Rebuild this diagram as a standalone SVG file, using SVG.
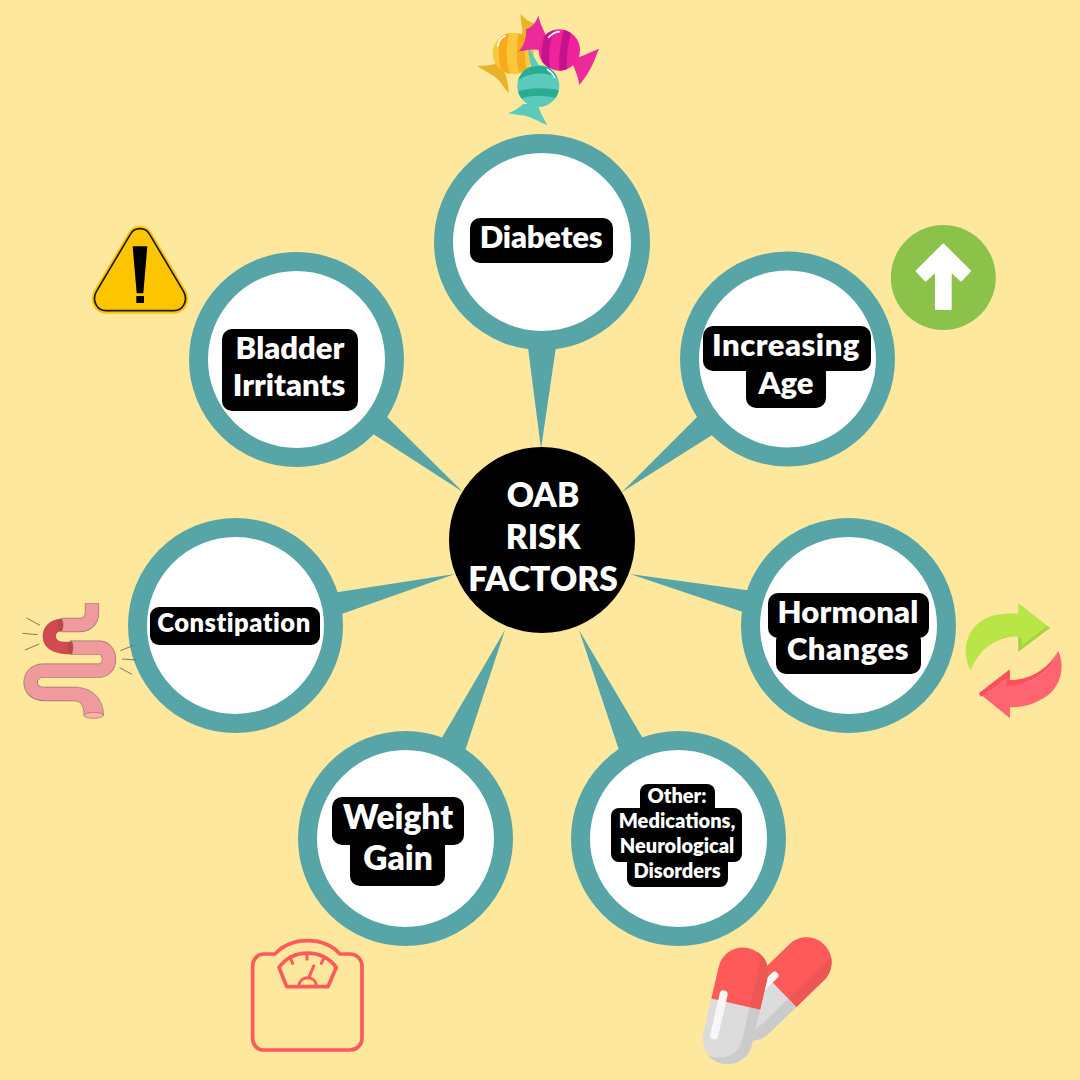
<svg xmlns="http://www.w3.org/2000/svg" width="1080" height="1080" viewBox="0 0 1080 1080">
<style>
.ring{fill:#fff;stroke:#58a5a8;stroke-width:19}
.spike{fill:#58a5a8}
.bg{fill:#000}
text{font-family:"Lato","Liberation Sans",sans-serif;font-weight:800;fill:#fff;text-anchor:middle}
.t31{font-size:31px}
.t26{font-size:25.5px;letter-spacing:.5px}
.t34{font-size:33.5px}
.t20{font-size:20px}
.t35{font-size:33.5px}
.gutline{fill:none;stroke:#8c7468;stroke-width:43}
.gutfill{fill:none;stroke:#f19a9e;stroke-width:39}
.hair{fill:none;stroke:#6d6a52;stroke-width:2.6}
.scale{fill:none;stroke:#ff5a5a;stroke-width:9;stroke-linejoin:round;stroke-linecap:round}
</style>
<defs>
<clipPath id="cy"><circle cx="160" cy="160" r="62"/></clipPath>
<clipPath id="cp"><circle cx="298" cy="150" r="62"/></clipPath>
<clipPath id="cg"><circle cx="235" cy="258" r="63"/></clipPath>
</defs>
<rect width="1080" height="1080" fill="#fee89e"/>
<g id="connectors">
<polygon class="spike" points="541,449 527,340 557,340"/>
<polygon class="spike" points="622,492 702,412 720,430"/>
<polygon class="spike" points="630,574 753,591 749,614"/>
<polygon class="spike" points="579,630 619,750 645,742"/>
<polygon class="spike" points="505,630 440,741 464,754"/>
<polygon class="spike" points="455,574 332,593 336,616"/>
<polygon class="spike" points="463,492 381,411 367,430"/>
</g>
<g id="node-diabetes">
<circle class="ring" cx="542" cy="242" r="98.5"/>
<rect class="bg" x="470" y="218" width="143" height="45" rx="10"/>
<text class="t31" x="541" y="248" style="letter-spacing:-.2px">Diabetes</text>
</g>
<g id="node-age">
<circle class="ring" cx="787.5" cy="359" r="98"/>
<rect class="bg" x="703" y="326" width="168" height="45" rx="10"/>
<rect class="bg" x="746" y="360" width="80" height="48" rx="10"/>
<text class="t31" x="786" y="356" style="letter-spacing:.5px">Increasing</text>
<text class="t31" x="786" y="394">Age</text>
</g>
<g id="node-hormonal">
<circle class="ring" cx="848.5" cy="625.5" r="98"/>
<rect class="bg" x="768" y="593" width="161" height="45" rx="10"/>
<rect class="bg" x="776" y="630" width="145" height="44" rx="10"/>
<text class="t31" x="848" y="623" style="letter-spacing:.2px">Hormonal</text>
<text class="t31" x="848" y="660" style="letter-spacing:.5px">Changes</text>
</g>
<g id="node-other">
<circle class="ring" cx="678.5" cy="838.5" r="98"/>
<rect class="bg" x="640" y="784" width="75" height="40" rx="8"/>
<rect class="bg" x="611" y="808" width="131" height="54" rx="8"/>
<rect class="bg" x="627" y="850" width="101" height="37" rx="8"/>
<text class="t20" x="677" y="803">Other:</text>
<text class="t20" x="677" y="828">Medications,</text>
<text class="t20" x="677" y="853">Neurological</text>
<text class="t20" x="677" y="878">Disorders</text>
</g>
<g id="node-weight">
<circle class="ring" cx="405.5" cy="838.5" r="98"/>
<rect class="bg" x="332" y="797" width="132" height="48" rx="10"/>
<rect class="bg" x="350" y="835" width="95" height="51" rx="10"/>
<text class="t34" x="398" y="829">Weight</text>
<text class="t34" x="398" y="870">Gain</text>
</g>
<g id="node-constipation">
<circle class="ring" cx="235.5" cy="625.5" r="98"/>
<rect class="bg" x="150" y="607" width="170" height="38" rx="9"/>
<text class="t26" x="234" y="632">Constipation</text>
</g>
<g id="node-bladder">
<circle class="ring" cx="296.5" cy="359.5" r="98"/>
<rect class="bg" x="222" y="329" width="136" height="82" rx="10"/>
<text class="t31" x="290" y="359">Bladder</text>
<text class="t31" x="289" y="396">Irritants</text>
</g>
<g id="node-center">
<circle cx="542" cy="540" r="93" fill="#000"/>
<text class="t35" x="543" y="507">OAB</text>
<text class="t35" x="543" y="549">RISK</text>
<text class="t35" x="543" y="591">FACTORS</text>
</g>
<g id="icon-candy" transform="translate(460,0) scale(.3333)">
<path d="M183,42C195,58 210,68 232,72L222,120L185,108C192,85 178,62 183,42Z" fill="#e8b32a"/>
<path d="M112,190C90,197 70,198 52,198C75,215 105,225 120,245C130,258 138,270 146,279C146,260 142,240 135,220Z" fill="#e8b32a"/>
<circle cx="160" cy="160" r="62" fill="#fcc73a"/>
<g clip-path="url(#cy)">
<path d="M128,90C115,130 112,180 128,225L152,225C135,185 138,130 150,90ZM175,90C172,130 165,190 180,225L202,215C190,180 195,130 200,95Z" fill="#f6ab1c"/>
</g>
<path d="M113,138C116,122 123,112 135,108" fill="none" stroke="#fff" stroke-width="5" stroke-linecap="round"/>
<path d="M208,145C220,170 235,190 240,205L215,215C215,195 205,170 205,150Z" fill="#5ccabb"/>
<path d="M235,46C240,70 248,85 262,115L240,150C215,145 195,152 176,154C195,135 200,108 198,88C215,85 230,65 235,46Z" fill="#ee2a9b"/>
<path d="M335,185L355,172C375,165 395,155 417,146C405,175 402,190 380,225C370,240 362,250 358,255C355,235 350,220 335,185Z" fill="#ee2a9b"/>
<circle cx="298" cy="150" r="62" fill="#f0229c"/>
<g clip-path="url(#cp)">
<path d="M262,85C245,120 240,170 250,205L272,212C262,170 268,125 285,85ZM312,85C302,125 295,170 298,215L322,212C318,170 325,125 335,95Z" fill="#c5138c"/>
</g>
<path d="M266,112C274,103 285,96 298,95" fill="none" stroke="#fff" stroke-width="5" stroke-linecap="round"/>
<path d="M190,312C175,325 160,335 144,340C165,345 190,345 205,350C225,358 245,368 262,376C250,355 240,335 232,312Z" fill="#5ccabb"/>
<circle cx="235" cy="258" r="63" fill="#5ccabb"/>
<g clip-path="url(#cg)">
<path d="M170,225C205,190 265,190 300,222L300,238C262,212 205,215 170,245ZM170,275C210,262 260,262 300,272L290,295C255,285 210,283 180,298Z" fill="#28ad90"/>
</g>
<path d="M262,208C272,215 280,222 284,232" fill="none" stroke="#fff" stroke-width="5" stroke-linecap="round"/>
</g>
<g id="icon-arrow-up">
<circle cx="943.3" cy="277.5" r="52.5" fill="#8bc34a"/>
<path d="M943.3,244.5L970,271L961,280.5L950.7,271V309H936V271L925.6,280.5L916.7,271Z" fill="#fff" stroke="#fff" stroke-width="2" stroke-linejoin="round"/>
</g>
<g id="icon-warning" transform="translate(80,215) scale(.3333)">
<path d="M180,32C195,32 208,40 216,54L318,226C335,258 318,296 282,296H78C42,296 25,258 42,226L144,54C152,40 165,32 180,32Z" fill="#fdc500"/>
<path d="M180,41C192,41 203,47 209,58L311,230C325,256 310,287 282,287H78C50,287 35,256 49,230L151,58C157,47 168,41 180,41Z" fill="none" stroke="#1a1a1a" stroke-width="5"/>
<path d="M158,94H202L190,235H170ZM169,243H192V264H169Z" fill="#000"/>
</g>
<g id="icon-cycle" transform="translate(950,590) scale(.3333)">
<path d="M62,241C35,190 45,130 90,95C125,72 165,70 205,70V39L300,113L205,185V138C135,140 85,180 62,241Z" fill="#b9e547"/>
<path d="M62,241C85,180 135,140 205,138V185L300,113L291,108L215,168V150C210,138 205,138 190,138C135,142 88,178 62,241Z" fill="#a5d23e"/>
<path d="M325,183C350,240 325,300 280,325C245,347 215,352 180,352V385L87,310L180,239V285C245,285 300,245 325,183Z" fill="#ff6470"/>
<path d="M325,183C300,245 245,285 170,288V263L92,320L87,310L178,239V270C245,270 295,235 325,183Z" fill="#ff4f5e"/>
</g>
<g id="icon-gut" transform="translate(10,590) scale(.3333)">
<path class="gutline" d="M246,40V68C246,90 232,105 210,105H155"/>
<path class="gutline" d="M180,173H270C285,173 297,190 297,208C297,228 285,242 265,242H100C75,242 62,258 62,278C62,298 78,312 105,312H200"/>
<path d="M195,292C245,292 280,325 281,376H222C222,345 210,332 190,332Z" fill="#f19a9e" stroke="#8c7468" stroke-width="2"/>
<path class="gutfill" d="M246,41V68C246,90 232,105 210,105H155"/>
<path class="gutfill" d="M180,173H270C285,173 297,190 297,208C297,228 285,242 265,242H100C75,242 62,258 62,278C62,298 78,312 105,312H200"/>
<path d="M152,86C120,88 98,110 98,138C98,168 120,193 182,193L182,155H160C145,155 138,148 138,138C138,130 145,124 155,124Z" fill="#d14a50"/>
<ellipse cx="152" cy="105" rx="7" ry="19" fill="#c2434a" stroke="#8c5a55" stroke-width="2"/>
<ellipse cx="182" cy="173" rx="7" ry="19" fill="#c2434a" stroke="#8c5a55" stroke-width="2"/>
<ellipse cx="251" cy="376" rx="29" ry="9" fill="#f8b4a8" stroke="#8c7468" stroke-width="2"/>
<path class="hair" d="M50,84L90,106M37,130L83,134M45,180L88,162M331,182L371,166M336,207L380,210M329,233L366,253"/>
</g>
<g id="icon-scale" transform="translate(240,930) scale(.3333)">
<path class="scale" style="stroke-width:11" d="M72,72H105C130,45 165,32 203,32C240,32 275,45 300,72H330C350,72 366,88 366,110V325C366,345 350,360 330,360H72C52,360 38,345 38,325V110C38,88 52,72 72,72Z"/>
<path class="scale" style="stroke-width:11" d="M117,112C160,55 245,55 289,112L264,170H140Z"/>
<path class="scale" d="M150,82L158,100M201,72V88M253,82L244,100M208,140L221,108"/>
<path class="scale" d="M176,168C180,135 226,135 230,168"/>
</g>
<g id="icon-pills" transform="translate(690,930) scale(.3333)">
<g transform="translate(-43,2) rotate(46 310 175)">
<rect x="235" y="-15" width="150" height="380" rx="75" fill="#dcdcdc"/>
<path d="M235,175V60C235,18 268,-15 310,-15C352,-15 385,18 385,60V175Z" fill="#ff5a5a"/>
<path d="M350,-4C370,10 385,35 385,60V175H350Z" fill="#ee5555"/>
<path d="M350,175H385V290C385,330 352,365 310,365C335,340 350,320 350,290Z" fill="#cbcbcb"/>
<rect x="261" y="145" width="22" height="100" rx="11" fill="#f7f7f7"/>
</g>
<g transform="rotate(13 135 232)">
<rect x="60" y="50" width="150" height="355" rx="75" fill="#dcdcdc"/>
<path d="M60,222V125C60,83 93,50 135,50C177,50 210,83 210,125V222Z" fill="#ff5a5a"/>
<path d="M160,54C190,62 210,90 210,125V222H178V100C178,80 172,65 160,54Z" fill="#ee5555"/>
<path d="M178,222H210V330C210,372 177,405 135,405C115,405 100,400 88,392C140,395 178,370 178,320Z" fill="#cbcbcb"/>
<rect x="81" y="190" width="24" height="150" rx="12" fill="#f7f7f7"/>
</g>
</g>
</svg>
